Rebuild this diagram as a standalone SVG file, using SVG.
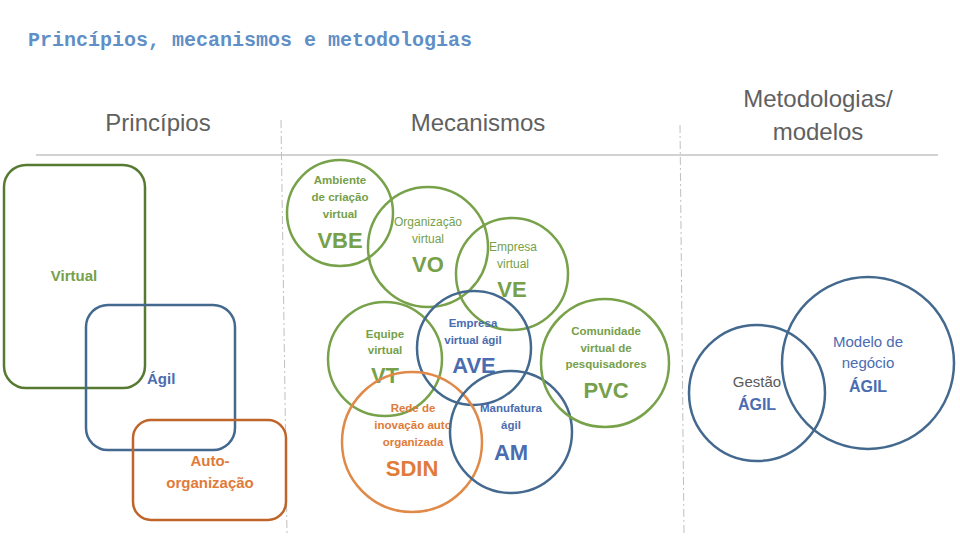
<svg xmlns="http://www.w3.org/2000/svg" width="960" height="540" viewBox="0 0 960 540">
<style>
text{font-family:"Liberation Sans","Noto Sans",sans-serif;text-anchor:middle}
.hdr{font-size:24px;fill:#606060}
.g{fill:#76a04a}.b{fill:#4a6cb0}.o{fill:#e07b39}
.sm{font-size:11.5px;font-weight:bold}
.big{font-size:22px;font-weight:bold}
.lbl{font-size:15px;font-weight:bold}
.cg{fill:none;stroke:#77a24a;stroke-width:2.5}
.cb{fill:none;stroke:#44698f;stroke-width:2.5}
.co{fill:none;stroke:#e08a4a;stroke-width:2.5}
.dash{stroke:#c0c0c0;stroke-width:1;stroke-dasharray:8 3 2 3}
</style>
<rect width="960" height="540" fill="#ffffff"/>
<text x="28" y="46" style="font-family:'Liberation Mono',monospace;font-size:20px;font-weight:bold;text-anchor:start;fill:#5f8fc6">Princípios, mecanismos e metodologias</text>
<g id="frame">
<line x1="36" y1="155" x2="938" y2="155" stroke="#a6a6a6" stroke-width="1.2"/>
<line class="dash" x1="281" y1="120" x2="287" y2="535"/>
<line class="dash" x1="680" y1="125" x2="684" y2="535"/>
<text class="hdr" x="158" y="131">Princípios</text>
<text class="hdr" x="478" y="131">Mecanismos</text>
<text class="hdr" x="818" y="107">Metodologias/</text>
<text class="hdr" x="818" y="140">modelos</text>
</g>
<g id="virtual">
<rect x="4" y="165" width="141" height="223" rx="22" fill="none" stroke="#577a33" stroke-width="2.5"/>
<text class="lbl g" x="74" y="281">Virtual</text>
</g>
<g id="agil">
<rect x="86" y="305" width="149" height="145" rx="22" fill="none" stroke="#44698f" stroke-width="2.5"/>
<text class="lbl b" x="147" y="384" style="text-anchor:start">Ágil</text>
</g>
<g id="auto">
<rect x="133" y="420" width="153" height="100" rx="18" fill="none" stroke="#c0652a" stroke-width="2.5"/>
<text class="lbl o" x="210" y="466">Auto-</text>
<text class="lbl o" x="210" y="488">organização</text>
</g>
<g id="vbe">
<circle class="cg" cx="340" cy="213" r="53"/>
<text class="sm g" x="340" y="184">Ambiente</text>
<text class="sm g" x="340" y="201">de criação</text>
<text class="sm g" x="340" y="218">virtual</text>
<text class="big g" x="340" y="248">VBE</text>
</g>
<g id="vo">
<circle class="cg" cx="428" cy="247" r="60"/>
<text class="g" x="428" y="226" style="font-size:12px">Organização</text>
<text class="g" x="428" y="243" style="font-size:12px">virtual</text>
<text class="big g" x="428" y="272">VO</text>
</g>
<g id="ve">
<circle class="cg" cx="512" cy="274" r="56"/>
<text class="g" x="513" y="251" style="font-size:12px">Empresa</text>
<text class="g" x="513" y="268" style="font-size:12px">virtual</text>
<text class="big g" x="512" y="297">VE</text>
</g>
<g id="vt">
<circle class="cg" cx="385" cy="359" r="57"/>
<text class="sm g" x="385" y="338">Equipe</text>
<text class="sm g" x="385" y="354">virtual</text>
<text class="big g" x="385" y="383">VT</text>
</g>
<g id="ave">
<circle class="cb" cx="474" cy="348" r="57"/>
<text class="sm b" x="473" y="327">Empresa</text>
<text class="sm b" x="473" y="344">virtual ágil</text>
<text class="big b" x="474" y="373">AVE</text>
</g>
<g id="sdin">
<circle class="co" cx="412" cy="442" r="70"/>
<text class="sm o" x="413" y="412">Rede de</text>
<text class="sm o" x="413" y="429">inovação auto</text>
<text class="sm o" x="413" y="446">organizada</text>
<text class="big o" x="412" y="476">SDIN</text>
</g>
<g id="am">
<circle class="cb" cx="511" cy="432" r="61"/>
<text class="sm b" x="511" y="412">Manufatura</text>
<text class="sm b" x="511" y="429">ágil</text>
<text class="big b" x="511" y="460">AM</text>
</g>
<g id="pvc">
<circle class="cg" cx="605" cy="363" r="64"/>
<text class="sm g" x="606" y="335">Comunidade</text>
<text class="sm g" x="606" y="352">virtual de</text>
<text class="sm g" x="606" y="368">pesquisadores</text>
<text class="big g" x="606" y="398">PVC</text>
</g>
<g id="gestao">
<circle class="cb" cx="757" cy="393" r="68"/>
<text x="757" y="387" style="font-size:15px;fill:#595959">Gestão</text>
<text x="757" y="410" style="font-size:16px;font-weight:bold;fill:#4a6cb0">ÁGIL</text>
</g>
<g id="modelo">
<circle class="cb" cx="868" cy="363" r="86"/>
<text x="868" y="347" style="font-size:15px;fill:#4a6cb0">Modelo de</text>
<text x="868" y="368" style="font-size:15px;fill:#4a6cb0">negócio</text>
<text x="868" y="392" style="font-size:16px;font-weight:bold;fill:#4a6cb0">ÁGIL</text>
</g>
<g id="connectors"></g>
</svg>
